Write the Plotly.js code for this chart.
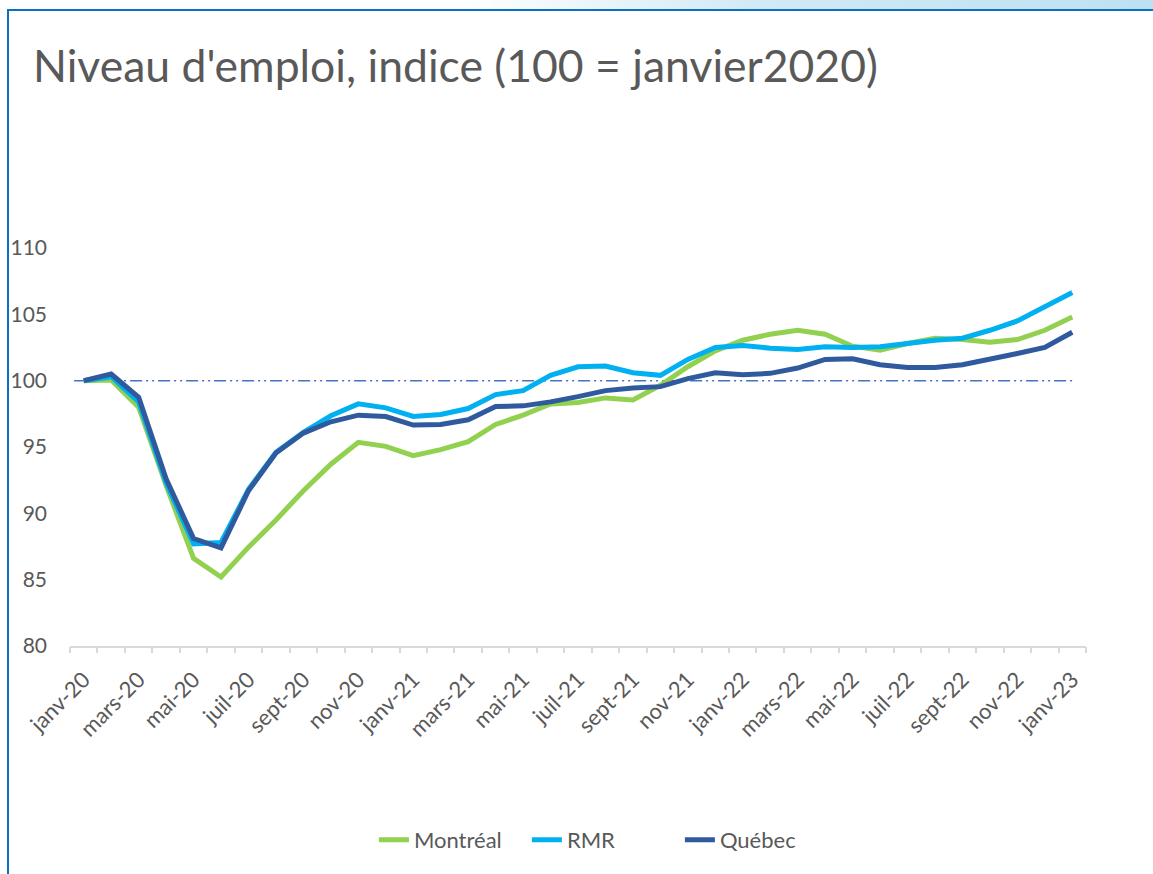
<!DOCTYPE html>
<html>
<head>
<meta charset="utf-8">
<script src="https://cdn.plot.ly/plotly-3.0.1.min.js"></script>
<style>
  html, body { margin: 0; padding: 0; background: #ffffff; }
  #wrap { position: relative; width: 1153px; height: 874px; overflow: hidden; background: #ffffff; }
  #band { position: absolute; left: 0; top: 0; width: 1153px; height: 10px;
          background: linear-gradient(to right, #ffffff 0%, #ffffff 40%, #d2eaf5 65%, #bde1f1 100%); }
  #topline { position: absolute; left: 7px; top: 9px; width: 1146px; height: 2px; background: #0a70c4; }
  #leftline { position: absolute; left: 7px; top: 9px; width: 2px; height: 865px; background: #0a70c4; }
  #chart { position: absolute; left: 0; top: 0; width: 1153px; height: 874px; }
</style>
</head>
<body>
<div id="wrap">
  <div id="chart"></div>
  <div id="band"></div>
  <div id="topline"></div>
  <div id="leftline"></div>
</div>
<script>
const months = ['janv-20','févr-20','mars-20','avr-20','mai-20','juin-20','juil-20','août-20','sept-20','oct-20','nov-20','déc-20',
                'janv-21','févr-21','mars-21','avr-21','mai-21','juin-21','juil-21','août-21','sept-21','oct-21','nov-21','déc-21',
                'janv-22','févr-22','mars-22','avr-22','mai-22','juin-22','juil-22','août-22','sept-22','oct-22','nov-22','déc-22',
                'janv-23'];

const montreal = [100, 100.05, 98.0, 92.1, 86.6, 85.2, 87.45, 89.5, 91.7, 93.7, 95.35, 95.05,
                  94.35, 94.8, 95.4, 96.7, 97.4, 98.25, 98.35, 98.7, 98.55, 99.65, 101.05, 102.25,
                  103.05, 103.5, 103.8, 103.5, 102.6, 102.3, 102.8, 103.2, 103.1, 102.9, 103.1, 103.8,
                  104.8];

const rmr = [100, 100.3, 98.4, 92.3, 87.7, 87.8, 91.8, 94.6, 96.1, 97.35, 98.25, 97.95,
             97.3, 97.45, 97.9, 98.95, 99.25, 100.4, 101.05, 101.1, 100.6, 100.4, 101.6, 102.5,
             102.65, 102.45, 102.35, 102.55, 102.5, 102.55, 102.8, 103.05, 103.2, 103.8, 104.5, 105.55,
             106.65];

const quebec = [100, 100.5, 98.75, 92.6, 88.1, 87.4, 91.7, 94.55, 96.05, 96.9, 97.4, 97.3,
                96.65, 96.7, 97.05, 98.05, 98.1, 98.4, 98.8, 99.25, 99.45, 99.55, 100.15, 100.6,
                100.45, 100.55, 100.95, 101.6, 101.65, 101.2, 101.0, 101.0, 101.2, 101.6, 102.05, 102.5,
                103.65];

const seriesNames = ['Montréal', 'RMR', 'Québec'];
const seriesColors = ['#92d050', '#00b0f0', '#2f5a9e'];
const baseLevel = 100;

const FONT = 'Lato, "Open Sans", sans-serif';
const TXT = '#595959';

const traces = [montreal, rmr, quebec].map((vals, k) => ({
  type: 'scatter',
  mode: 'lines',
  x: months,
  y: vals,
  name: seriesNames[k],
  line: { color: seriesColors[k], width: 5 },
  hoverinfo: 'skip'
}));

// empty trace to realise the overlay axis carrying boundary tick marks
traces.push({ type: 'scatter', x: [], y: [], xaxis: 'x2', yaxis: 'y', showlegend: false, hoverinfo: 'skip' });

const layout = {
  width: 1153,
  height: 874,
  paper_bgcolor: 'rgba(0,0,0,0)',
  plot_bgcolor: 'rgba(0,0,0,0)',
  margin: { l: 70, r: 67, t: 248, b: 228, pad: 0 },
  font: { family: FONT, color: TXT, size: 20 },
  title: {
    text: "Niveau d'emploi, indice (100 = janvier2020)",
    font: { family: FONT, size: 44.5, color: TXT },
    x: 33 / 1153, xanchor: 'left', xref: 'container',
    y: 1 - 66 / 874, yanchor: 'middle', yref: 'container'
  },
  showlegend: true,
  legend: {
    orientation: 'h',
    x: 0.525, xanchor: 'center',
    y: -0.487, yanchor: 'middle',
    entrywidth: 108,
    entrywidthmode: 'pixels',
    font: { family: FONT, size: 22, color: TXT },
    bgcolor: 'rgba(0,0,0,0)'
  },
  xaxis: {
    type: 'category',
    range: [-0.5, months.length - 0.5],
    dtick: 2,
    tickangle: -45,
    ticks: '',
    ticklabelstandoff: 10,
    showgrid: false,
    zeroline: false,
    showline: true,
    linecolor: '#d9d9d9',
    linewidth: 2,
    tickfont: { family: FONT, size: 22, color: TXT },
    fixedrange: true
  },
  xaxis2: {
    overlaying: 'x',
    anchor: 'y',
    side: 'bottom',
    type: 'linear',
    range: [-0.5, months.length - 0.5],
    tick0: -0.5,
    dtick: 1,
    ticks: 'outside',
    ticklen: 6,
    tickwidth: 2,
    tickcolor: '#d9d9d9',
    showticklabels: false,
    showgrid: false,
    zeroline: false,
    showline: false,
    fixedrange: true
  },
  yaxis: {
    range: [80, 110],
    dtick: 5,
    tick0: 80,
    showgrid: false,
    zeroline: false,
    showline: false,
    ticks: '',
    ticklabelstandoff: 22,
    tickfont: { family: FONT, size: 21, color: TXT },
    fixedrange: true
  },
  shapes: [{
    type: 'line',
    xref: 'x', yref: 'y',
    x0: -0.35, x1: months.length - 1,
    y0: baseLevel, y1: baseLevel,
    line: { color: '#4472c4', width: 1.5, dash: '12px,4px,2px,4px,2px,4px' },
    layer: 'below'
  }]
};

Plotly.newPlot('chart', traces, layout, { staticPlot: true, displayModeBar: false });
</script>
</body>
</html>
